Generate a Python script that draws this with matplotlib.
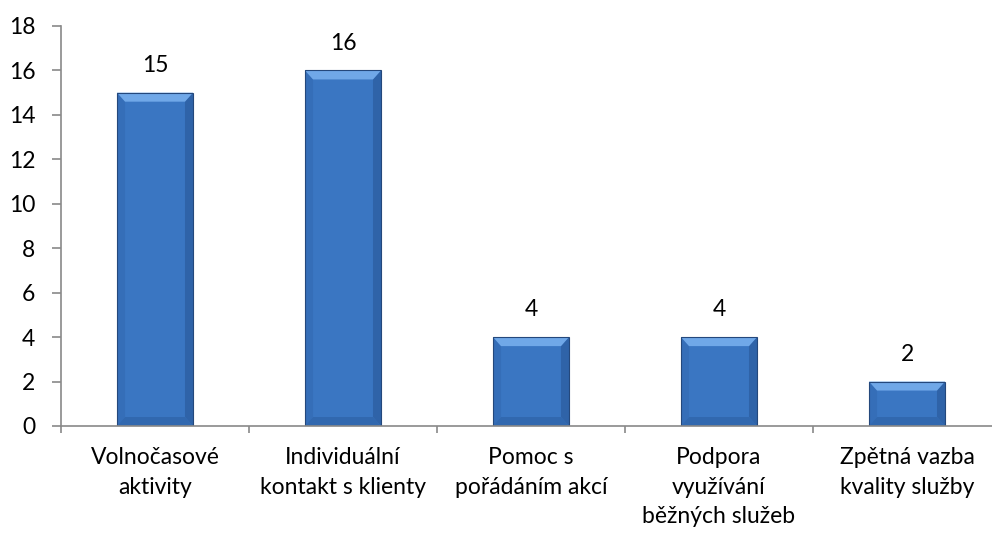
import matplotlib
matplotlib.use("Agg")
import matplotlib.pyplot as plt
import numpy as np
from matplotlib.patches import Polygon, Rectangle

categories = ["Volnočasové\naktivity", "Individuální\nkontakt s klienty", "Pomoc s\npořádáním akcí",
              "Podpora\nvyužívání\nběžných služeb", "Zpětná vazba\nkvality služby"]
values = [15, 16, 4, 4, 2]
yticks = [0, 2, 4, 6, 8, 10, 12, 14, 16, 18]

plt.rcParams['font.family'] = ['Lato', 'DejaVu Sans']
FS = 16.5

fig = plt.figure(figsize=(9.92, 5.34), dpi=100)
ax = fig.add_axes([61/992, (534-426)/534, 940/992, 400/534])
ax.set_xlim(-0.5, len(values) - 0.5)
ax.set_ylim(0, 18)

x = np.arange(len(values))
w = 0.404
bars = ax.bar(x, values, width=w, color="#3A76C2", edgecolor="none", zorder=2)

px_x = 1.0 / 188.0   # data units per pixel (x)
px_y = 18.0 / 400.0  # data units per pixel (y)

for b in bars:
    bx, by, bw, bh = b.get_x(), b.get_y(), b.get_width(), b.get_height()
    dx = 8 * px_x
    dy = 9 * px_y
    # left bevel
    ax.add_patch(Polygon([[bx, by], [bx + dx, by + dy], [bx + dx, by + bh - dy], [bx, by + bh]],
                         closed=True, facecolor="#356EB8", edgecolor="none", zorder=2.2))
    # right bevel
    ax.add_patch(Polygon([[bx + bw, by], [bx + bw - dx, by + dy], [bx + bw - dx, by + bh - dy], [bx + bw, by + bh]],
                         closed=True, facecolor="#2F63A8", edgecolor="none", zorder=2.2))
    # top bevel
    ax.add_patch(Polygon([[bx, by + bh], [bx + bw, by + bh], [bx + bw - dx, by + bh - dy], [bx + dx, by + bh - dy]],
                         closed=True, facecolor="#70A8E8", edgecolor="none", zorder=2.3))
    # bottom bevel
    ax.add_patch(Polygon([[bx, by], [bx + bw, by], [bx + bw - dx, by + dy], [bx + dx, by + dy]],
                         closed=True, facecolor="#3168AF", edgecolor="none", zorder=2.2))
    ax.add_patch(Rectangle((bx, by), bw, bh, facecolor="none", edgecolor="#24487C",
                           linewidth=0.8, zorder=2.4))
    ax.text(bx + bw / 2, by + bh + 0.75, str(int(bh)), ha='center', va='bottom', fontsize=FS, color="black")

for s in ['top', 'right']:
    ax.spines[s].set_visible(False)
for s in ['left', 'bottom']:
    ax.spines[s].set_color("#898989")
    ax.spines[s].set_linewidth(1.2)
ax.spines['bottom'].set_zorder(3)

ax.set_yticks(yticks)
ax.set_yticklabels([str(v) for v in yticks], fontsize=FS)
ax.tick_params(axis='y', length=6.5, width=1.2, color="#898989", pad=12)

ax.set_xticks(np.arange(-0.5, len(values) + 0.5, 1.0))
ax.set_xticklabels([])
ax.tick_params(axis='x', length=5, width=1.2, color="#898989")
for i, c in enumerate(categories):
    ax.text(i, -0.95, c, ha='center', va='top', fontsize=FS, linespacing=1.5,
            transform=ax.transData, clip_on=False)

fig.savefig("out.png", dpi=100)
